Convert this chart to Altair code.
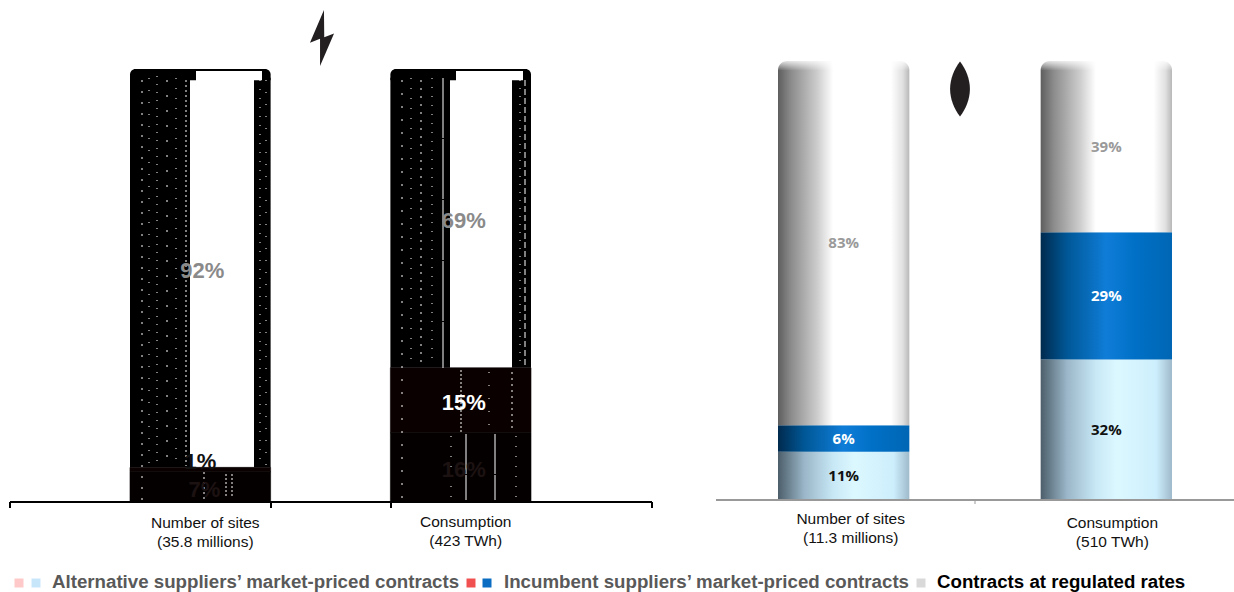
import altair as alt
import pandas as pd

# Shares by contract type, stacked bottom to top: alternative, incumbent, regulated
categories = ["Number of sites", "Consumption"]
power_sites = [7, 1, 92]
power_consumption = [16, 15, 69]
gas_sites = [11, 6, 83]
gas_consumption = [32, 29, 39]
power_captions = ["Number of sites\n(35.8 millions)", "Consumption\n(423 TWh)"]
gas_captions = ["Number of sites\n(11.3 millions)", "Consumption\n(510 TWh)"]
legend_labels = [
    "Alternative suppliers\u2019 market-priced contracts",
    "Incumbent suppliers\u2019 market-priced contracts",
    "Contracts at regulated rates",
]

BOLT = "M0.07,-1 L-0.43,0.17 L-0.07,0.03 L-0.07,1 L0.43,-0.16 L0.08,-0.03 Z"
LEAF = "M0,-1 C0.22,-0.72 0.36,-0.35 0.36,0 C0.36,0.35 0.22,0.72 0,1 C-0.22,0.72 -0.36,0.35 -0.36,0 C-0.36,-0.35 -0.22,-0.72 0,-1 Z"


def grad(*stops, vertical=False):
    return {
        "gradient": "linear",
        "x1": 0, "y1": 0,
        "x2": 0 if vertical else 1, "y2": 1 if vertical else 0,
        "stops": [{"offset": o, "color": c} for o, c in stops],
    }


GREY = grad((0, "#5e5e5e"), (0.1, "#8c8c8c"), (0.3, "#cdcdcd"), (0.42, "#ffffff"),
            (0.86, "#ffffff"), (0.95, "#e0e0e0"), (1, "#b8b8b8"))
BLUE = grad((0, "#002a4e"), (0.2, "#005796"), (0.5, "#0f7dd8"), (0.72, "#0070c6"), (1, "#0066b4"))
PALE = grad((0, "#4c5e6a"), (0.2, "#9ab6c8"), (0.42, "#c8e8f6"), (0.58, "#dcf8ff"),
            (0.88, "#cdeefc"), (1, "#9fbacb"))
INK = "#0a0000"


def hollow(a, b):
    return grad((0, "#000000"), (a, "#000000"), (a, "#ffffff"), (b, "#ffffff"), (b, "#000000"), (1, "#000000"))


def xscale(panel):
    if panel == "power":
        return alt.Scale(type="band", domain=categories, range=[130, 531], paddingInner=0.46, paddingOuter=0)
    return alt.Scale(type="band", domain=categories, range=[778, 1172], paddingInner=0.5, paddingOuter=0)


def yscale(panel):
    if panel == "power":
        return alt.Scale(domain=[0, 100], range=[502, 69])
    return alt.Scale(domain=[0, 100], range=[500, 61])


def enc(panel):
    return dict(x=alt.X("cat:N", scale=xscale(panel), axis=None, title=None),
                y=alt.Y("hi:Q", scale=yscale(panel), axis=None, title=None),
                y2="lo:Q")


def segment(panel, cat, lo, hi, fill, **mark):
    df = pd.DataFrame({"cat": [cat], "lo": [lo], "hi": [hi]})
    return alt.Chart(df).mark_bar(color=fill, **mark).encode(**enc(panel))


def label(panel, cat, at, text, color, font, size, dx=0, dy=0):
    df = pd.DataFrame({"cat": [cat], "at": [at], "t": [text]})
    return alt.Chart(df).mark_text(color=color, font=font, fontSize=size, fontWeight="bold",
                                   dx=dx, dy=dy).encode(
        x=alt.X("cat:N", scale=xscale(panel), axis=None, title=None),
        y=alt.Y("at:Q", scale=yscale(panel), axis=None, title=None),
        text="t:N")


def caption(panel, cat, text, top, dx):
    df = pd.DataFrame({"cat": [cat], "t": [text]})
    return alt.Chart(df).mark_text(font="Liberation Sans", fontSize=15.5, color="#111111", lineBreak="\n",
                                   lineHeight=19, baseline="top", dx=dx).encode(
        x=alt.X("cat:N", scale=xscale(panel), axis=None, title=None),
        y=alt.value(top), text="t:N")


def rule(x, x2, y, y2, color, width, dash=None):
    mark = dict(color=color, strokeWidth=width)
    if dash:
        mark["strokeDash"] = dash
    return alt.Chart(pd.DataFrame({"k": [0]})).mark_rule(**mark).encode(
        x=alt.value(x), x2=alt.value(x2), y=alt.value(y), y2=alt.value(y2))


def icon(path, x, y, size):
    return alt.Chart(pd.DataFrame({"k": [0]})).mark_point(
        shape=path, size=size, filled=True, color="#231f20", opacity=1).encode(
        x=alt.value(x), y=alt.value(y))


layers = []

# Left pair: heavy black columns with an open centre in the regulated share
for cat, vals, a, b in [(categories[0], power_sites, 0.43, 0.885), (categories[1], power_consumption, 0.425, 0.865)]:
    s0, s1 = vals[0], vals[0] + vals[1]
    layers.append(segment("power", cat, s1, 98, hollow(a, b)))
    layers.append(segment("power", cat, 97.4, 100, hollow(0.47, 0.94), cornerRadiusTopLeft=5.5, cornerRadiusTopRight=5.5))
    layers.append(segment("power", cat, s0, s1, INK, stroke=INK, strokeWidth=0.6))
    layers.append(segment("power", cat, 0, s0, "#050000", stroke="#050000", strokeWidth=0.6))
for x0, x1 in [(136, 265), (396, 526)]:
    layers.append(rule(x0, x1, 70, 70, "#000000", 2))

# Fine white flecks running through the black parts of the columns
for x, y0, y1, dash in [
    (142, 80, 500, [2, 9]), (149, 78, 466, [1, 11]), (157, 76, 466, [1, 7]), (167, 80, 466, [2, 13]),
    (176, 78, 466, [1, 9]), (186, 80, 466, [2, 3]), (204, 472, 500, [2, 3]), (226, 474, 498, [2, 2]),
    (232, 474, 498, [2, 2]), (260, 80, 466, [1, 8]), (266, 80, 466, [1, 11]),
    (402, 80, 500, [2, 11]), (411, 78, 366, [1, 9]), (421, 80, 366, [2, 6]), (432, 78, 366, [1, 8]),
    (443, 78, 368, [60, 1]), (520, 80, 366, [1, 7]), (525, 80, 366, [6, 3]),
    (466, 434, 500, [40, 1]), (495, 434, 500, [40, 1]), (461, 370, 432, [2, 2]), (512, 372, 430, [2, 4]),
    (489, 372, 430, [1, 12]), (451, 436, 500, [1, 9]), (516, 436, 500, [1, 9]),
]:
    layers.append(rule(x, x, y0, y1, "#ffffff", 1, dash))

# Right pair: shaded cylinders with a soft highlight along the top
for cat, vals in [(categories[0], gas_sites), (categories[1], gas_consumption)]:
    s0, s1 = vals[0], vals[0] + vals[1]
    layers.append(segment("gas", cat, 0, s0, PALE))
    layers.append(segment("gas", cat, s0, s1, BLUE))
    layers.append(segment("gas", cat, s1, 100, GREY, cornerRadiusTopLeft=9, cornerRadiusTopRight=9))
    layers.append(segment("gas", cat, 97.8, 100,
                          grad((0, "#ffffffcc"), (1, "#ffffff00"), vertical=True),
                          cornerRadiusTopLeft=9, cornerRadiusTopRight=9))

# Value labels
ARIAL = "Liberation Sans"
SOFT = "Open Sans"
layers += [
    label("power", categories[0], 54, "92%", "#8a8a8a", ARIAL, 22, dx=2, dy=3),
    label("power", categories[0], 7.5, "1%", "#111111", ARIAL, 22, dy=-8),
    label("power", categories[0], 3.5, "7%", "#1c1212", ARIAL, 22, dx=4, dy=3),
    label("power", categories[1], 65.5, "69%", "#8a8a8a", ARIAL, 22, dx=3, dy=3),
    label("power", categories[1], 23.5, "15%", "#ffffff", ARIAL, 22, dx=3, dy=3),
    label("power", categories[1], 8, "16%", "#1c1212", ARIAL, 22, dx=3, dy=3),
    label("gas", categories[0], 58.5, "83%", "#9a9a9a", SOFT, 15),
    label("gas", categories[0], 14, "6%", "#ffffff", SOFT, 15),
    label("gas", categories[0], 5.5, "11%", "#111111", SOFT, 15),
    label("gas", categories[1], 80.5, "39%", "#9a9a9a", SOFT, 15),
    label("gas", categories[1], 46.5, "29%", "#ffffff", SOFT, 15),
    label("gas", categories[1], 16, "32%", "#111111", SOFT, 15),
]

# Baselines and tick marks
layers.append(rule(10, 652, 502, 502, "#000000", 2))
for x in [10, 271, 391, 652]:
    layers.append(rule(x, x, 502, 508, "#000000", 2))
layers.append(rule(716, 1234, 500, 500, "#999999", 2))
layers.append(rule(975, 975, 500, 504, "#999999", 1))

# Category captions
layers += [
    caption("power", categories[0], power_captions[0], 516, 5),
    caption("power", categories[1], power_captions[1], 515, 5),
    caption("gas", categories[0], gas_captions[0], 512, 7),
    caption("gas", categories[1], gas_captions[1], 516, 6),
]

# Energy pictograms
layers.append(icon(BOLT, 322, 38, 3136))
layers.append(icon(LEAF, 960, 89, 3025))

# Legend row
for x, color in [(19, "#ffc9c9"), (36, "#c8e6fa"), (471, "#f0504f"), (487, "#0a6dc2"), (921, "#d9d9d9")]:
    layers.append(alt.Chart(pd.DataFrame({"k": [0]})).mark_square(color=color, size=81, opacity=1).encode(
        x=alt.value(x), y=alt.value(583)))
for x, text, color in [(52, legend_labels[0], "#595959"), (504, legend_labels[1], "#595959"), (937, legend_labels[2], "#000000")]:
    layers.append(alt.Chart(pd.DataFrame({"t": [text]})).mark_text(
        align="left", font=ARIAL, fontSize=18.7, fontWeight="bold", color=color).encode(
        x=alt.value(x), y=alt.value(582), text="t:N"))

chart = (
    alt.layer(*layers)
    .resolve_scale(x="independent", y="independent")
    .properties(width=1234, height=592, padding=0, autosize=alt.AutoSizeParams(type="none"))
    .configure_view(stroke=None)
)

chart.save("out.html", embed_options={"renderer": "svg", "actions": False})
